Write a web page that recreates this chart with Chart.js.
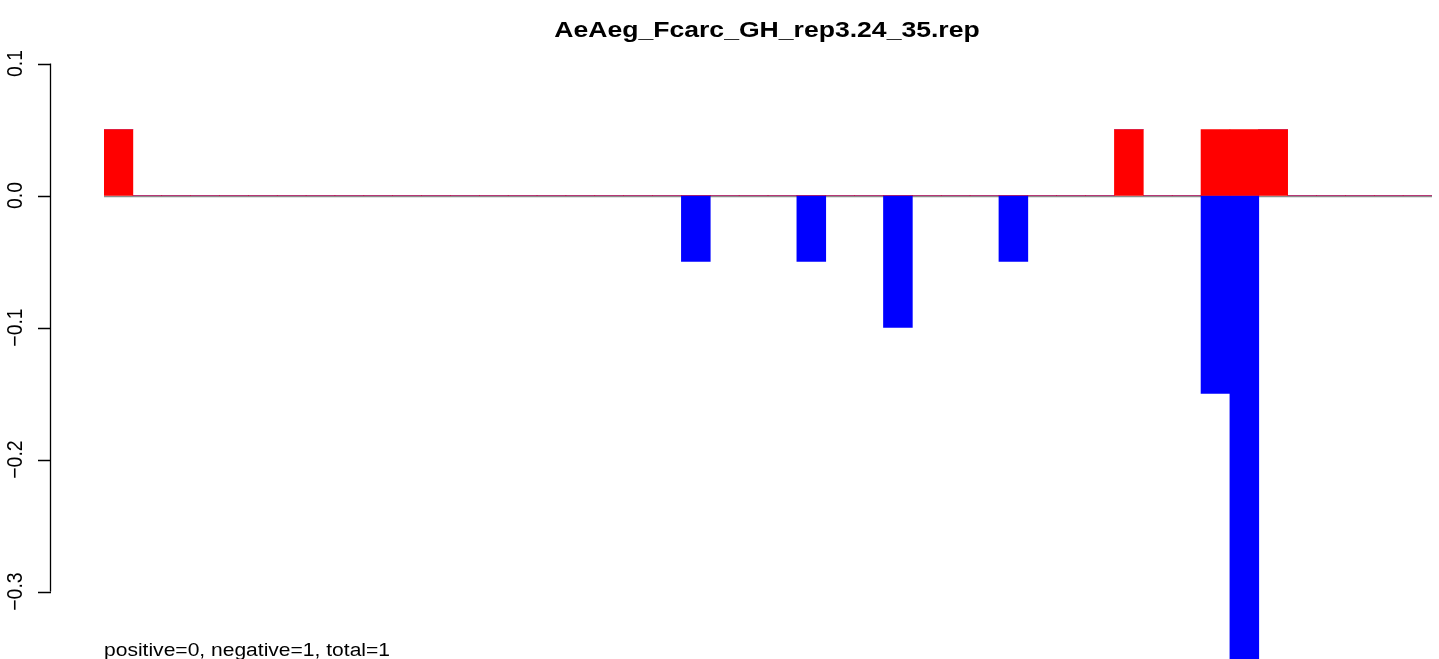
<!DOCTYPE html>
<html>
<head>
<meta charset="utf-8">
<script src="https://cdn.jsdelivr.net/npm/chart.js@4"></script>
<style>
  html, body { margin: 0; padding: 0; background: #fff; }
  canvas { display: block; }
</style>
</head>
<body>
<canvas id="chart" width="1439" height="659"></canvas>
<script>
// chart data
const titleText = 'AeAeg_Fcarc_GH_rep3.24_35.rep';
const footText = 'positive=0, negative=1, total=1';

const bins = [
    '1', '2', '3', '4', '5', '6', '7', '8', '9', '10',
    '11', '12', '13', '14', '15', '16', '17', '18', '19', '20',
    '21', '22', '23', '24', '25', '26', '27', '28', '29', '30',
    '31', '32', '33', '34', '35', '36', '37', '38', '39', '40',
    '41', '42', '43', '44', '45', '46'
];

const positive = [
    0.05, 0, 0, 0, 0, 0, 0, 0, 0, 0,
    0, 0, 0, 0, 0, 0, 0, 0, 0, 0,
    0, 0, 0, 0, 0, 0, 0, 0, 0, 0,
    0, 0, 0, 0, 0, 0.05, 0, 0, 0.05, 0.05,
    0.05, 0, 0, 0, 0, 0
];

const negative = [
    0, 0, 0, 0, 0, 0, 0, 0, 0, 0,
    0, 0, 0, 0, 0, 0, 0, 0, 0, 0,
    -0.05, 0, 0, 0, -0.05, 0, 0, -0.1, 0, 0,
    0, -0.05, 0, 0, 0, 0, 0, 0, -0.15, -0.4,
    0, 0, 0, 0, 0, 0
];

const yTicks = [0.1, 0.0, -0.1, -0.2, -0.3];
const yTickLabels = ['0.1', '0.0', '\u22120.1', '\u22120.2', '\u22120.3'];

// the reference looks stretched, so text is drawn scaled
const SY = 1.18;
const FONT = '"Liberation Sans", Arial, Helvetica, sans-serif';

function drawText(c, text, x, y, font, align, sx, rotated) {
    c.save();
    c.translate(x, y);
    c.scale(sx, SY);
    if (rotated) c.rotate(-Math.PI / 2);
    c.font = font;
    c.fillStyle = '#000';
    c.textAlign = align;
    c.textBaseline = 'alphabetic';
    c.fillText(text, 0, 0);
    c.restore();
}

// base-graphics style decorations: zero line, left axis, title, footnote
const rStyle = {
    id: 'rStyle',
    beforeDatasetsDraw(chart) {
        const c = chart.ctx;
        const area = chart.chartArea;
        const y0 = Math.round(chart.scales.y.getPixelForValue(0)) + 0.5;
        c.save();
        c.strokeStyle = '#8c8c8c';
        c.lineWidth = 1.5;
        c.beginPath();
        c.moveTo(area.left, y0);
        c.lineTo(area.right, y0);
        c.stroke();
        c.restore();
    },
    afterDraw(chart) {
        const c = chart.ctx;
        const y = chart.scales.y;
        const axisX = 50;

        c.save();
        c.strokeStyle = '#000';
        c.lineWidth = 1.3;
        c.beginPath();
        c.moveTo(axisX + 0.5, y.getPixelForValue(yTicks[0]));
        c.lineTo(axisX + 0.5, y.getPixelForValue(yTicks[yTicks.length - 1]));
        yTicks.forEach(t => {
            const py = Math.round(y.getPixelForValue(t)) + 0.5;
            c.moveTo(axisX - 12, py);
            c.lineTo(axisX + 1, py);
        });
        c.stroke();
        c.restore();

        yTicks.forEach((t, i) => {
            drawText(c, yTickLabels[i], 22, y.getPixelForValue(t), '16.5px ' + FONT, 'center', 1.35, true);
        });

        drawText(c, titleText, 767, 37, 'bold 19.2px ' + FONT, 'center', 1.385, false);
        drawText(c, footText, 104, 656, '16px ' + FONT, 'left', 1.315, false);
    }
};

const ctx = document.getElementById('chart').getContext('2d');
new Chart(ctx, {
    type: 'bar',
    data: {
        labels: bins,
        datasets: [{
            label: 'positive',
            data: positive,
            backgroundColor: '#ff0000',
            borderWidth: 0,
            barPercentage: 1,
            categoryPercentage: 1
        }, {
            label: 'negative',
            data: negative,
            backgroundColor: '#0000ff',
            borderWidth: 0,
            barPercentage: 1,
            categoryPercentage: 1
        }]
    },
    options: {
        responsive: false,
        animation: false,
        layout: { padding: { left: 104, right: 7, top: 63.5, bottom: 0 } },
        plugins: {
            legend: { display: false },
            title: { display: false },
            tooltip: { enabled: false }
        },
        scales: {
            x: { display: false, stacked: true, offset: true },
            y: { display: false, stacked: true, min: -0.3511, max: 0.1 }
        }
    },
    plugins: [rStyle]
});
</script>
</body>
</html>
